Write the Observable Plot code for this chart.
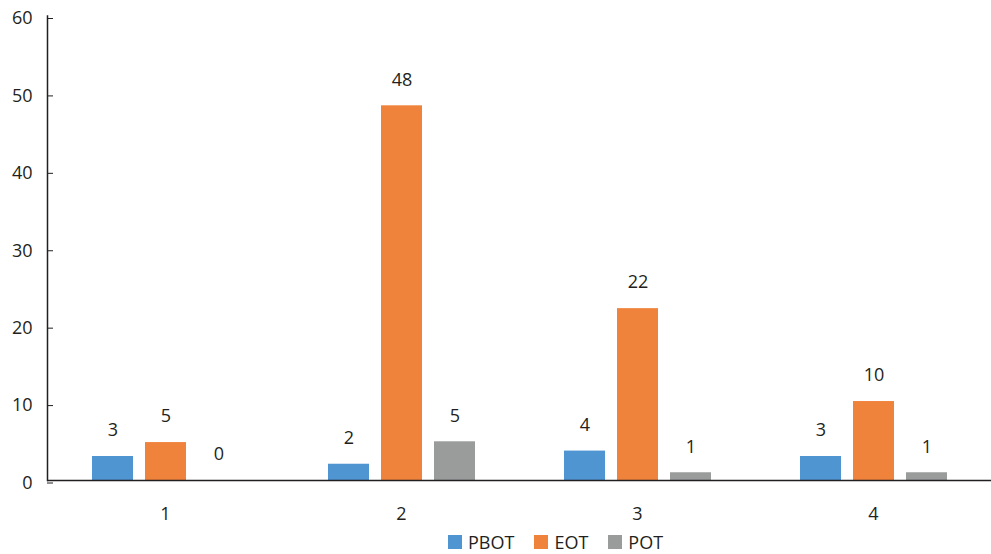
<!DOCTYPE html>
<html>
<head>
<meta charset="utf-8">
<script src="https://cdn.jsdelivr.net/npm/d3@7"></script>
<script src="https://cdn.jsdelivr.net/npm/@observablehq/plot@0.6"></script>
<style>
  html, body { margin: 0; padding: 0; background: #fff; }
  body { width: 991px; height: 554px; overflow: hidden; font-family: "Open Sans", sans-serif; color: #231f20; }
  #legend { display: flex; align-items: center; height: 24px; padding-top: 3px; padding-left: 448px; font-size: 18px; }
  .item { display: flex; align-items: center; margin-right: 20px; }
  .sw { width: 14px; height: 14px; margin-right: 6px; }
</style>
</head>
<body>
<div id="chart"></div>
<div id="legend"></div>
<script>
const groups = ["1", "2", "3", "4"];
const series = ["PBOT", "EOT", "POT"];
const pbot = [3.1, 2.1, 3.8, 3.1];
const eot = [4.9, 48.4, 22.2, 10.2];
const pot = [0, 5.0, 1.0, 1.0];
const colors = ["#4f95d1", "#f0833c", "#9a9c9c"];
const yTicks = [0, 10, 20, 30, 40, 50, 60];

const valuesBySeries = [pbot, eot, pot];
const data = [];
groups.forEach((g, gi) => {
  series.forEach((s, si) => {
    data.push({group: g, series: s, value: valuesBySeries[si][gi]});
  });
});

const ink = "#231f20";
const chart = Plot.plot({
  width: 991,
  height: 527,
  marginTop: 15.5,
  marginBottom: 47,
  marginLeft: 47,
  marginRight: 0,
  style: {fontFamily: "Open Sans, sans-serif", fontSize: "18px", color: ink, background: "#fff", display: "block"},
  fx: {domain: groups, padding: 0, label: null, axis: null},
  x: {domain: series, paddingInner: 0.23, paddingOuter: 0.83, axis: null},
  y: {domain: [0, 60], label: null, axis: null},
  color: {domain: series, range: colors},
  marks: [
    Plot.barY(data, {fx: "group", x: "series", y: "value", fill: "series"}),
    Plot.text(data, {fx: "group", x: "series", y: "value", text: d => String(Math.round(d.value)), dy: -26, fill: ink, fontSize: 18}),
    Plot.ruleY([0], {stroke: ink, strokeWidth: 1.5}),
    Plot.frame({anchor: "left", facetAnchor: "left", stroke: ink, strokeWidth: 1.5}),
    Plot.axisY({ticks: yTicks, tickSize: -6, tickPadding: 21, label: null, stroke: ink, fill: ink, fontSize: 18, dy: 2.5}),
    Plot.axisFx({anchor: "bottom", tickSize: 0, tickPadding: 27, label: null, fill: ink, fontSize: 18})
  ]
});
document.getElementById("chart").appendChild(chart);

const legend = document.getElementById("legend");
series.forEach((s, i) => {
  const item = document.createElement("div");
  item.className = "item";
  const sw = document.createElement("div");
  sw.className = "sw";
  sw.style.background = colors[i];
  const t = document.createElement("span");
  t.textContent = s;
  item.appendChild(sw);
  item.appendChild(t);
  legend.appendChild(item);
});
</script>
</body>
</html>
